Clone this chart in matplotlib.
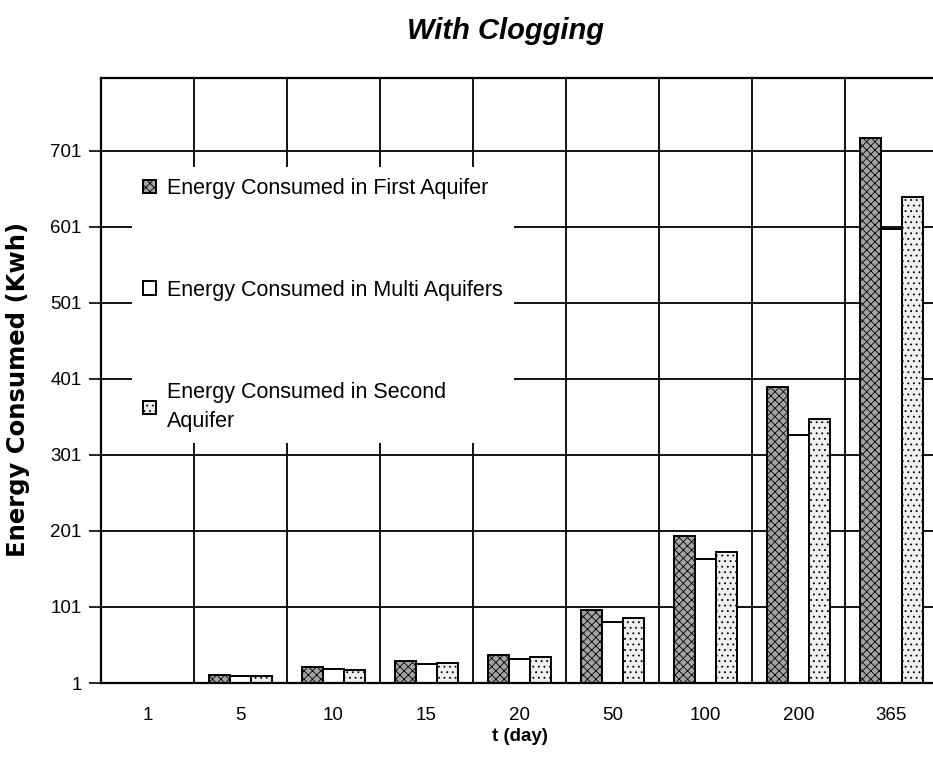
import numpy as np
import matplotlib
matplotlib.use('Agg')
import matplotlib.pyplot as plt

# energy use per pumping period, with clogging
days = ['1', '5', '10', '15', '20', '50', '100', '200', '365']
first_aquifer = [1, 11, 22, 30, 38, 97, 194, 391, 718]
multi_aquifers = [1, 10, 19, 26, 33, 81, 164, 327, 598]
second_aquifer = [1, 10, 18, 27, 35, 87, 174, 349, 640]
y_ticks = [1, 101, 201, 301, 401, 501, 601, 701]

plt.rcParams['font.family'] = ['Liberation Sans', 'DejaVu Sans']
plt.rcParams['hatch.linewidth'] = 0.6

fig = plt.figure(figsize=(9.33, 7.61), dpi=100)
ax = fig.add_axes([101 / 933, 1 - 683 / 761, 837 / 933, 605 / 761])

x = np.arange(len(days))
w = 0.225
ax.bar(x - w, first_aquifer, w, color='#a4a4a4', hatch='xxxx',
       edgecolor='black', linewidth=1.4, label='Energy Consumed in First Aquifer')
ax.bar(x, multi_aquifers, w, color='white', edgecolor='black', linewidth=1.4,
       label='Energy Consumed in Multi Aquifers')
ax.bar(x + w, second_aquifer, w, color='#efefef', hatch='...',
       edgecolor='black', linewidth=1.4, label='Energy Consumed in Second\nAquifer')

ax.set_xlim(-0.5, 8.5)
ax.set_ylim(1, 797)
ax.set_yticks(y_ticks)
ax.set_yticklabels([str(v) for v in y_ticks], fontsize=13.5)
ax.set_xticks(x)
ax.set_xticklabels(days, fontsize=13.5)
ax.set_xticks(np.arange(-0.5, 9, 1), minor=True)
ax.tick_params(axis='x', which='both', length=0, pad=17)
ax.tick_params(axis='y', length=9, width=1.2, pad=5)

ax.set_axisbelow(True)
ax.grid(axis='y', which='major', color='black', linewidth=1.3)
ax.grid(axis='x', which='minor', color='black', linewidth=1.3)
for s in ax.spines.values():
    s.set_linewidth(1.6)

ax.set_xlabel('t (day)', fontsize=13.5, fontweight='bold', labelpad=3)
ax.set_ylabel('Energy Consumed (Kwh)', fontsize=17.5, fontweight='bold',
              family=['DejaVu Sans'])
ax.yaxis.set_label_coords(-0.085, 0.485)

leg = ax.legend(loc='upper left', bbox_to_anchor=(0.024, 0.87),
                prop={'size': 15.5},
                handlelength=0.6, handleheight=0.6, handletextpad=0.55,
                labelspacing=3.75, borderpad=0.5, fancybox=False, framealpha=1)
leg.get_frame().set_edgecolor('white')
leg.get_frame().set_linewidth(0)
for t in leg.get_texts():
    t.set_linespacing(1.55)

fig.text(506 / 933, 1 - 31 / 761, 'With Clogging', ha='center', va='center',
         fontsize=21, fontweight='bold', fontstyle='italic')

fig.savefig('out.png', dpi=100)
